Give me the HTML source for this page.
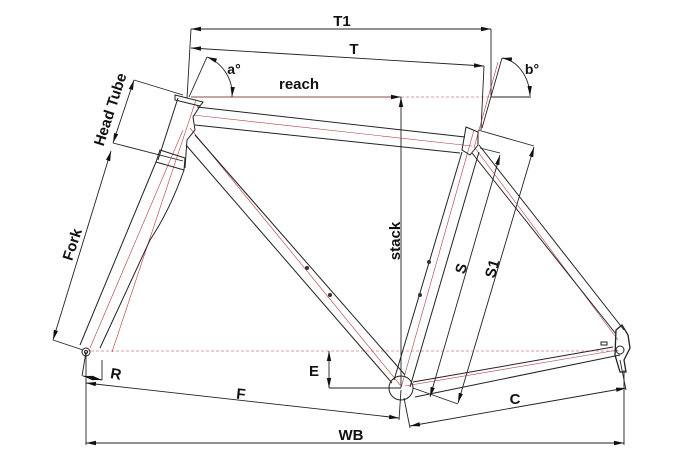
<!DOCTYPE html>
<html><head><meta charset="utf-8"><style>
html,body{margin:0;padding:0;background:#fff;}
svg{display:block;}
text{font-family:"Liberation Sans",Arial,sans-serif;font-weight:bold;fill:#111;}
</style></head><body>
<svg width="700" height="469" viewBox="0 0 700 469" xmlns="http://www.w3.org/2000/svg">
<defs>
<marker id="ar" markerWidth="10" markerHeight="6" refX="10" refY="3" orient="auto-start-reverse" markerUnits="userSpaceOnUse">
<path d="M0,0.8 L10,3 L0,5.2 Z" fill="#111"/></marker>
</defs>
<g fill="none" stroke="#222" stroke-width="0.9">
<line x1="191" y1="29" x2="491" y2="29" marker-start="url(#ar)" marker-end="url(#ar)"/>
<line x1="191" y1="29" x2="187" y2="98"/>
<line x1="491" y1="29" x2="491" y2="97"/>
<line x1="191" y1="48" x2="484" y2="66" marker-start="url(#ar)" marker-end="url(#ar)"/>
<line x1="484" y1="66" x2="481" y2="130"/>
<line x1="191" y1="97" x2="401" y2="97" stroke="#8a4a4a" marker-end="url(#ar)"/>
<line x1="491" y1="97" x2="531" y2="97"/>
<line x1="189" y1="97" x2="207" y2="57"/>
<path d="M207,57 A40,40 0 0 1 232,97" marker-start="url(#ar)" marker-end="url(#ar)"/>
<line x1="482" y1="128" x2="502" y2="58"/>
<path d="M502,58 A32,40 0 0 1 530,96" marker-start="url(#ar)" marker-end="url(#ar)"/>
<line x1="401" y1="388" x2="401" y2="97" marker-end="url(#ar)"/>
<line x1="134" y1="80" x2="183" y2="95"/>
<line x1="113" y1="143" x2="183" y2="161"/>
<line x1="134" y1="80" x2="113" y2="143" marker-start="url(#ar)" marker-end="url(#ar)"/>
<line x1="111" y1="151" x2="53" y2="340" marker-start="url(#ar)" marker-end="url(#ar)"/>
<line x1="53" y1="340" x2="83" y2="350"/>
<line x1="86" y1="352" x2="82" y2="376"/>
<line x1="102" y1="360" x2="102" y2="380"/>
<line x1="83" y1="376" x2="102" y2="380" marker-start="url(#ar)" marker-end="url(#ar)"/>
<line x1="329" y1="351" x2="329" y2="388" marker-start="url(#ar)" marker-end="url(#ar)"/>
<line x1="329" y1="388" x2="401" y2="388"/>
<line x1="86" y1="353" x2="86" y2="445"/>
<line x1="86" y1="383" x2="399" y2="418" marker-start="url(#ar)" marker-end="url(#ar)"/>
<line x1="401" y1="390" x2="399" y2="420"/>
<line x1="404" y1="398" x2="410" y2="428"/>
<line x1="410" y1="426" x2="626" y2="388" marker-start="url(#ar)" marker-end="url(#ar)"/>
<line x1="620" y1="360" x2="626" y2="390"/>
<line x1="624" y1="370" x2="624" y2="445"/>
<line x1="86" y1="443" x2="624" y2="443" marker-start="url(#ar)" marker-end="url(#ar)"/>
<line x1="480" y1="148" x2="500" y2="153"/>
<line x1="478" y1="130" x2="534" y2="146"/>
<line x1="500" y1="155" x2="430" y2="397" marker-start="url(#ar)" marker-end="url(#ar)"/>
<line x1="534" y1="147" x2="458" y2="403" marker-start="url(#ar)" marker-end="url(#ar)"/>
<line x1="413" y1="388" x2="458" y2="404"/>
</g>
<g fill="none" stroke="#b04040" stroke-width="0.6">
<line x1="401" y1="97" x2="491" y2="97" stroke-dasharray="3,2"/>
<line x1="86" y1="351" x2="620" y2="351" stroke-dasharray="3,2"/>
<line x1="193" y1="115" x2="472" y2="146"/>
<line x1="190" y1="128" x2="401" y2="386"/>
<line x1="474" y1="130" x2="401" y2="388"/>
<line x1="475" y1="148" x2="618" y2="340"/>
<line x1="405" y1="386" x2="618" y2="350"/>
<line x1="196" y1="100" x2="112" y2="352"/>
<line x1="183" y1="130" x2="90" y2="348"/>
<line x1="498" y1="62" x2="474" y2="148"/>
</g>
<g fill="none" stroke="#222" stroke-width="1">
<polygon points="175,95 203,102 200,106 175,100"/>
<path d="M178,98 L158,160 M200,106 L193,117 L195,130 L187,140 L185,168"/>
<polygon points="160,150 185,158 184,170 156,162"/>
<path d="M156,162 L80,345 M184,170 Q170,210 150,240 L100,348"/>
<circle cx="86" cy="352" r="4"/>
<circle cx="86" cy="352" r="1.5"/>
<line x1="197" y1="107" x2="465" y2="137"/>
<line x1="195" y1="125" x2="460" y2="153"/>
<line x1="195" y1="135" x2="405" y2="375"/>
<line x1="186" y1="145" x2="392" y2="383"/>
<line x1="462" y1="152" x2="394" y2="380"/>
<line x1="479" y1="152" x2="410" y2="387"/>
<path d="M466,127 L478,132 L478,145 L470,155 L462,150 Z"/>
<line x1="479" y1="145" x2="624" y2="330"/>
<line x1="472" y1="153" x2="616" y2="334"/>
<line x1="413" y1="382" x2="613" y2="347"/>
<line x1="415" y1="397" x2="620" y2="355"/>
<circle cx="401" cy="388" r="12"/>
<path d="M616,330 L622,325 L628,335 L630,348 L624,360 L626,372 L620,372 L615,355 Z" stroke-width="1.3"/>
<circle cx="620" cy="350" r="4"/>
<rect x="601" y="342" width="6" height="3"/>
</g>
<g fill="#333">
<circle cx="307" cy="268" r="2"/><circle cx="330" cy="295" r="2"/>
<circle cx="429" cy="262" r="2"/><circle cx="420" cy="295" r="2"/>
</g>
<text x="342" y="26" font-size="15" text-anchor="middle">T1</text>
<text x="354" y="54" font-size="15" text-anchor="middle">T</text>
<text x="299" y="89" font-size="15" text-anchor="middle">reach</text>
<text x="234" y="74" font-size="14" text-anchor="middle">a°</text>
<text x="532" y="74" font-size="14" text-anchor="middle">b°</text>
<text transform="translate(400,241) rotate(-90)" font-size="15" text-anchor="middle">stack</text>
<text transform="translate(115,111) rotate(-72)" font-size="15" text-anchor="middle">Head Tube</text>
<text transform="translate(77,246) rotate(-72)" font-size="15" text-anchor="middle">Fork</text>
<text transform="translate(466,270) rotate(-74)" font-size="15" text-anchor="middle">S</text>
<text transform="translate(497,270) rotate(-74)" font-size="15" text-anchor="middle">S1</text>
<text x="314" y="376" font-size="15" text-anchor="middle">E</text>
<text x="241" y="399" font-size="15" text-anchor="middle" transform="rotate(6 241 394)">F</text>
<text x="515" y="404" font-size="15" text-anchor="middle">C</text>
<text x="116" y="379" font-size="15" text-anchor="middle" transform="rotate(10 116 374)">R</text>
<text x="351" y="440" font-size="15" text-anchor="middle">WB</text>
</svg>
</body></html>
